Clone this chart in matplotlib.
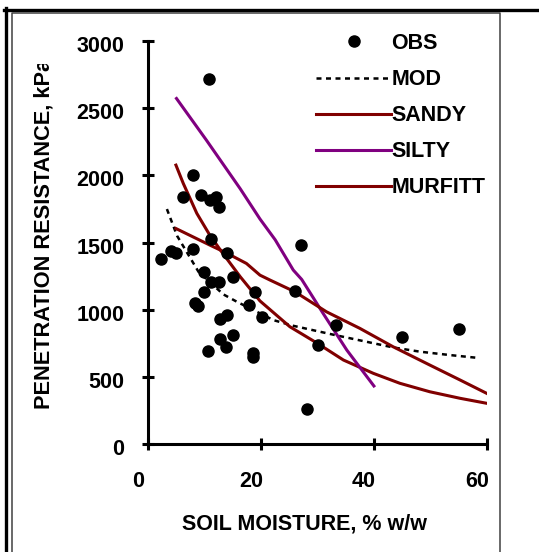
import matplotlib
matplotlib.use('Agg')
import matplotlib.pyplot as plt
import matplotlib.transforms as mtransforms
from matplotlib.lines import Line2D

plt.rcParams['font.family'] = ['Liberation Sans', 'DejaVu Sans']
plt.rcParams['font.weight'] = 'bold'
plt.rcParams['font.size'] = 15.5

# data
obs_x = [2.3, 4.0, 4.9, 6.1, 8.0, 8.0, 8.3, 8.8, 9.3, 9.8, 9.8, 10.5, 10.8, 10.9, 11.1, 11.1, 12.0, 12.6, 12.6, 12.8,
         12.8, 13.7, 14.0, 14.0, 15.1, 15.1, 17.9, 18.6, 18.6, 18.9, 20.1, 26.0, 27.1, 28.2, 30.0, 33.2, 44.9, 55.1]
obs_y = [1376, 1436, 1419, 1835, 2001, 1449, 1050, 1025, 1853, 1282, 1133, 692, 2716, 1815, 1523, 1208, 1840, 1761, 1208, 928,
         779, 720, 1419, 960, 1245, 811, 1032, 679, 645, 1133, 943, 1138, 1478, 258, 737, 883, 796, 853]

mod_x = [3.3, 5.1, 8.9, 13.3, 15.7, 22.2, 25.7, 33.1, 43.4, 48.2, 53.5, 58.2]
mod_y = [1749, 1550, 1282, 1114, 1059, 922, 880, 811, 719, 687, 662, 642]

sandy_x = [4.9, 6.2, 8.6, 10.9, 13.0, 16.3, 19.8, 25.1, 30.0, 34.6, 39.9, 44.6, 49.9, 55.3, 60]
sandy_y = [2076, 1940, 1717, 1555, 1431, 1245, 1065, 873, 749, 625, 526, 452, 389, 340, 303]

silty_x = [5.0, 10.3, 16.3, 19.8, 22.5, 25.7, 27.2, 31.0, 35.2, 40.0]
silty_y = [2572, 2262, 1900, 1675, 1520, 1295, 1225, 972, 699, 432]

murf_x = [4.9, 10.9, 14.0, 17.4, 19.8, 21.6, 26.0, 31.6, 37.5, 43.4, 49.9, 55.3, 60]
murf_y = [1604, 1481, 1419, 1344, 1257, 1220, 1133, 984, 861, 724, 588, 476, 377]

W, H = 539, 552
def fx(px):
    return px / W
def fy(py):
    return 1 - py / H

fig = plt.figure(figsize=(5.39, 5.52), dpi=100)
ax = fig.add_axes([fx(148.3), fy(444), fx(486.7) - fx(148.3), fy(41) - fy(444)])

red = '#800000'
ax.plot(obs_x, obs_y, 'o', color='black', ms=8, label='OBS', zorder=5)
ax.plot(mod_x, mod_y, color='black', lw=1.8, ls=(0, (2, 1.8)), label='MOD')
ax.plot(sandy_x, sandy_y, color=red, lw=2.2, label='SANDY')
ax.plot(silty_x, silty_y, color='#800080', lw=2.2, label='SILTY')
ax.plot(murf_x, murf_y, color=red, lw=2.2, label='MURFITT')

ax.set_xlim(0, 60)
ax.set_ylim(0, 3000)
ax.set_xticks([0, 20, 40, 60])
ax.set_yticks(range(0, 3001, 500))
for s in ['top', 'right']:
    ax.spines[s].set_visible(False)
for s in ['left', 'bottom']:
    ax.spines[s].set_linewidth(2.2)
ax.tick_params(direction='inout', length=8.6, width=2.2, labelsize=15.5)
ax.tick_params(axis='y', pad=13)
ax.tick_params(axis='x', pad=15)

# Excel puts the labels a bit off the ticks
off_x = mtransforms.ScaledTranslation(-0.10, 0, fig.dpi_scale_trans)
for lab in ax.get_xticklabels():
    lab.set_transform(lab.get_transform() + off_x)
off_y = mtransforms.ScaledTranslation(0, -0.03, fig.dpi_scale_trans)
for lab in ax.get_yticklabels():
    lab.set_transform(lab.get_transform() + off_y)

leg = ax.legend(loc='upper left', bbox_to_anchor=(fx(316), fy(33)), bbox_transform=fig.transFigure,
                frameon=False, handlelength=3.5, handletextpad=0.0, labelspacing=0.7,
                borderpad=0, borderaxespad=0, fontsize=15.5)

fig.text(fx(304), fy(524), 'SOIL MOISTURE, % w/w', ha='center', va='center', fontsize=15.5, fontweight='bold')
yl = fig.text(fx(44), fy(409), 'PENETRATION RESISTANCE, kPa', rotation=90, ha='center', va='bottom',
              fontsize=15.7, fontweight='bold')
# the top of the label is cut off in the original
clip = mtransforms.TransformedBbox(mtransforms.Bbox([[0, 0], [1, fy(64)]]), fig.transFigure)
yl.set_clip_box(clip)
yl.set_clip_on(True)

# outer frame
fig.add_artist(Line2D([fx(4), fx(539)], [fy(9.5), fy(9.5)], color='black', lw=2.4))
fig.add_artist(Line2D([fx(5.5), fx(5.5)], [fy(8.3), fy(552)], color='black', lw=2.4))
fig.add_artist(Line2D([fx(12), fx(12), fx(500), fx(500)], [fy(552), fy(12.5), fy(12.5), fy(552)],
                      color='#404040', lw=1.1))

fig.savefig('out.png', dpi=100)
